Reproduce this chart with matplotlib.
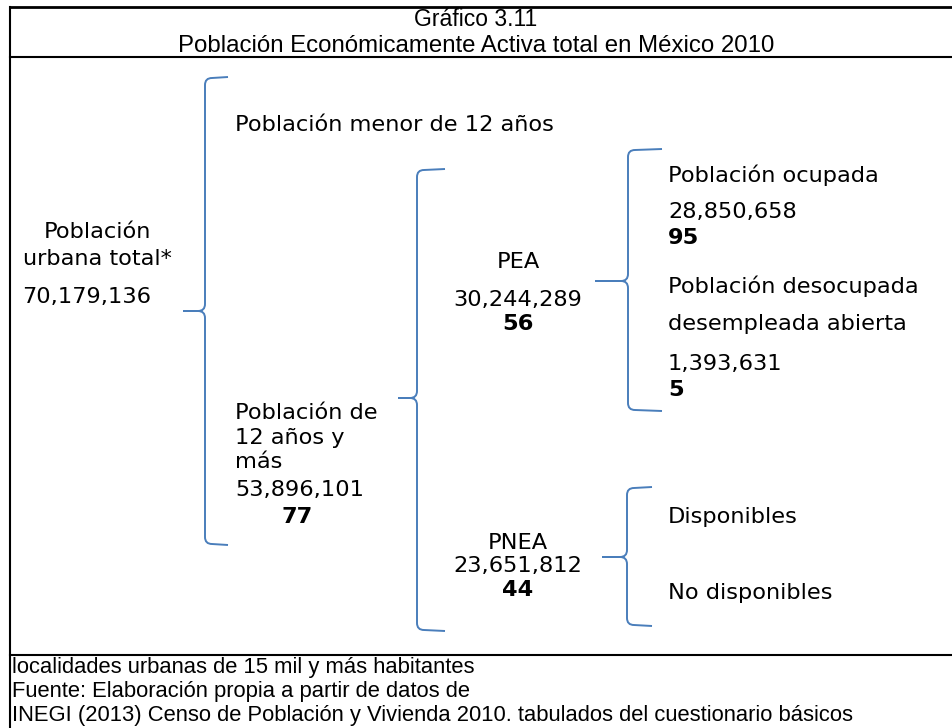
import matplotlib
matplotlib.use("Agg")
import matplotlib.pyplot as plt
from matplotlib.path import Path
from matplotlib.patches import PathPatch

# Datos del diagrama (INEGI 2010)
titulo = ["Gráfico 3.11", "Población Económicamente Activa total en México 2010"]
pob_urbana_total = 70179136
pob_12_mas = 53896101
pct_12_mas = 77
pea = 30244289
pct_pea = 56
pnea = 23651812
pct_pnea = 44
ocupada = 28850658
pct_ocupada = 95
desocupada = 1393631
pct_desocupada = 5
notas = ["localidades urbanas de 15 mil y más habitantes",
         "Fuente: Elaboración propia a partir de datos de",
         "INEGI (2013) Censo de Población y Vivienda 2010. tabulados del cuestionario básicos"]

BLUE = "#4a7ebb"
MAIN = ["DejaVu Sans"]
NARROW = ["Liberation Sans", "DejaVu Sans"]
FS = 16.2


def fmt(v):
    return f"{v:,}"


def brace(ax, x_tip, x_v, x_end, y_top, y_tip, y_bot, r=7):
    # llave abierta a la derecha, punta hacia la izquierda
    verts = [(x_end, y_top - 1), (x_v + r, y_top), (x_v, y_top), (x_v, y_top + r),
             (x_v, y_tip - r), (x_v, y_tip), (x_v - r, y_tip), (x_tip, y_tip),
             (x_v - r, y_tip), (x_v, y_tip), (x_v, y_tip + r),
             (x_v, y_bot - r), (x_v, y_bot), (x_v + r, y_bot), (x_end, y_bot + 1)]
    codes = [Path.MOVETO, Path.LINETO, Path.CURVE3, Path.CURVE3,
             Path.LINETO, Path.CURVE3, Path.CURVE3, Path.LINETO,
             Path.LINETO, Path.CURVE3, Path.CURVE3,
             Path.LINETO, Path.CURVE3, Path.CURVE3, Path.LINETO]
    ax.add_patch(PathPatch(Path(verts, codes), fill=False, edgecolor=BLUE, lw=1.4))


fig = plt.figure(figsize=(9.52, 7.28), dpi=100)
ax = fig.add_axes([0, 0, 1, 1])
ax.set_xlim(0, 952)
ax.set_ylim(728, 0)
ax.axis("off")

# marco
ax.plot([10, 952], [7, 7], color="black", lw=2)
ax.plot([10, 10], [7, 728], color="black", lw=1.5)
ax.plot([10, 952], [57, 57], color="black", lw=1.5)
ax.plot([10, 952], [655, 655], color="black", lw=1.5)

# titulo
ax.text(476, 26, titulo[0], ha="center", va="baseline", fontsize=16.5, family=NARROW)
ax.text(476, 52, titulo[1], ha="center", va="baseline", fontsize=17.3, family=NARROW)

# llaves
brace(ax, 183, 205, 228, 78, 311, 544)
brace(ax, 398, 417, 445, 170, 398, 630)
brace(ax, 595, 628, 662, 150, 281, 410)
brace(ax, 602, 627, 652, 488, 557, 625)

# textos
def t(x, y, s, ha="left", bold=False):
    ax.text(x, y, s, ha=ha, va="center", fontsize=FS, family=MAIN,
            fontweight="bold" if bold else "normal")

t(97, 232, "Población", ha="center")
t(97, 259, "urbana total*", ha="center")
t(22, 297, fmt(pob_urbana_total))

t(235, 125, "Población menor de 12 años")
t(235, 413, "Población de")
t(235, 438, "12 años y")
t(235, 462, "más")
t(235, 490, fmt(pob_12_mas))
t(297, 517, str(pct_12_mas), ha="center", bold=True)

t(518, 262, "PEA", ha="center")
t(518, 300, fmt(pea), ha="center")
t(518, 324, str(pct_pea), ha="center", bold=True)

t(518, 543, "PNEA", ha="center")
t(518, 566, fmt(pnea), ha="center")
t(518, 590, str(pct_pnea), ha="center", bold=True)

t(668, 175, "Población ocupada")
t(668, 212, fmt(ocupada))
t(668, 238, str(pct_ocupada), bold=True)
t(668, 286, "Población desocupada")
t(668, 324, "desempleada abierta")
t(668, 364, fmt(desocupada))
t(668, 390, str(pct_desocupada), bold=True)

t(668, 517, "Disponibles")
t(668, 593, "No disponibles")

# notas al pie
for i, s in enumerate(notas):
    ax.text(12, 673 + 24 * i, s, ha="left", va="baseline", fontsize=15.8, family=NARROW)

fig.savefig("out.png", dpi=100)
